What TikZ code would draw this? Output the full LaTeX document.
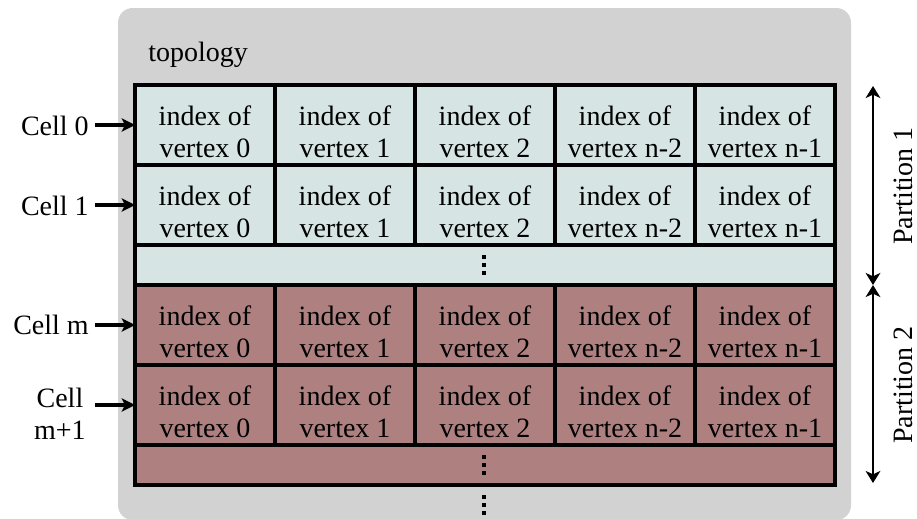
\documentclass[tikz,border=0pt]{standalone}
\usepackage{fontspec}
\setmainfont{Liberation Serif}
\usetikzlibrary{arrows.meta}
\definecolor{topogray}{HTML}{D2D2D2}
\definecolor{partone}{HTML}{D6E4E4}
\definecolor{parttwo}{HTML}{AE8080}
% two centred lines, set a little below the middle of their box
\newcommand\celltext[2]{\raisebox{-7.5pt}[\height][\depth]{\begin{tabular}{@{}c@{}}#1\\#2\end{tabular}}}
\begin{document}
\begin{tikzpicture}[x=0.75pt,y=-0.75pt,
  every node/.style={font=\fontsize{21}{24}\selectfont},
  cellbox/.style={draw=black,line width=3pt,inner sep=0pt,outer sep=0pt,
    minimum width=105pt,minimum height=60pt,align=center},
  dotsbox/.style={draw=black,line width=3pt,inner sep=0pt,outer sep=0pt,
    minimum width=525pt,minimum height=30pt},
  rowarrow/.style={-{Stealth[length=10pt,width=10pt,inset=2.5pt]},line width=3pt},
  partarrow/.style={{Stealth[length=9pt,width=11pt,inset=2.5pt]}-{Stealth[length=9pt,width=11pt,inset=2.5pt]},line width=2pt},
  celllabel/.style={anchor=base east,align=center,inner sep=0pt},
  vdot/.style={fill=black,minimum size=2.4pt,inner sep=0pt,outer sep=0pt,rectangle}]
\useasboundingbox (0,0) rectangle (917,518);

% topology container
\fill[topogray,rounded corners=11pt] (118,8) rectangle (851,520);
\node[anchor=base west,inner sep=0pt] (topo) at (148,61) {topology};

% partition 1 rows
\foreach \r/\y in {0/125,1/205}{
  \node[cellbox,fill=partone] (a\r c0) at (205,\y) {\celltext{index of}{vertex 0}};
  \node[cellbox,fill=partone] (a\r c1) at (345,\y) {\celltext{index of}{vertex 1}};
  \node[cellbox,fill=partone] (a\r c2) at (485,\y) {\celltext{index of}{vertex 2}};
  \node[cellbox,fill=partone] (a\r c3) at (625,\y) {\celltext{index of}{vertex n-2}};
  \node[cellbox,fill=partone] (a\r c4) at (765,\y) {\celltext{index of}{vertex n-1}};
}
\node[dotsbox,fill=partone] (adots) at (485,265) {};

% partition 2 rows
\foreach \r/\y in {0/325,1/405}{
  \node[cellbox,fill=parttwo] (b\r c0) at (205,\y) {\celltext{index of}{vertex 0}};
  \node[cellbox,fill=parttwo] (b\r c1) at (345,\y) {\celltext{index of}{vertex 1}};
  \node[cellbox,fill=parttwo] (b\r c2) at (485,\y) {\celltext{index of}{vertex 2}};
  \node[cellbox,fill=parttwo] (b\r c3) at (625,\y) {\celltext{index of}{vertex n-2}};
  \node[cellbox,fill=parttwo] (b\r c4) at (765,\y) {\celltext{index of}{vertex n-1}};
}
\node[dotsbox,fill=parttwo] (bdots) at (485,465) {};

% vertical ellipses: inside each partition and after the last one
\foreach \cy in {265,465,505}{
  \foreach \d in {-8,0,8}{
    \node[vdot] at (484,\cy+\d) {};
  }
}

% cell labels
\node[celllabel] (l0) at (89,135) {Cell 0};
\node[celllabel] (l1) at (89,215) {Cell 1};
\node[celllabel] (lm) at (89,334) {Cell m};
\node[anchor=east,align=center,inner sep=0pt] (lm1) at (86,414) {Cell\\m+1};
\draw[rowarrow] (a0c0.west -| l0.east) ++(6,0) -- (a0c0.west);
\draw[rowarrow] (a1c0.west -| l1.east) ++(6,0) -- (a1c0.west);
\draw[rowarrow] (b0c0.west -| lm.east) ++(6,0) -- (b0c0.west);
\draw[rowarrow] (b1c0.west -| lm1.east) ++(9,0) -- (b1c0.west);

% partition extents
\coordinate (p1top) at (873,86);
\coordinate (pmid) at (873,285);
\coordinate (p2bot) at (873,483);
\draw[partarrow] (p1top) -- (pmid);
\draw[partarrow] (pmid) -- (p2bot);
\node[rotate=90] (part1) at (903,186) {Partition 1};
\node[rotate=90] (part2) at (903,385) {Partition 2};
\end{tikzpicture}
\end{document}
